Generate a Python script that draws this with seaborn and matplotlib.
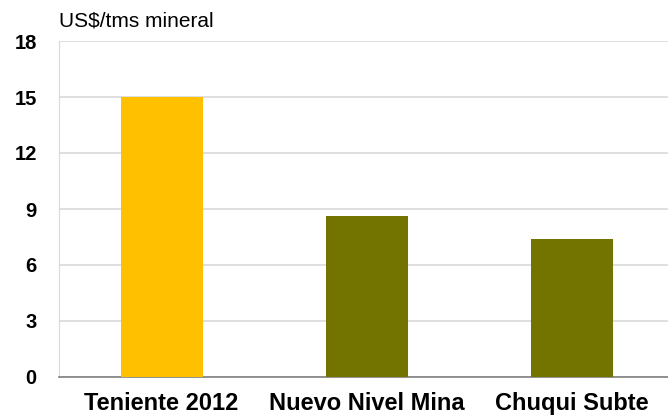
import seaborn as sns
import matplotlib.pyplot as plt
import pandas as pd

categories = ['Teniente 2012', 'Nuevo Nivel Mina', 'Chuqui Subte']
values = [15.0, 8.6, 7.4]
bar_colors = ['#FFC000', '#737300', '#737300']
y_ticks = [0, 3, 6, 9, 12, 15, 18]

df = pd.DataFrame({'Proyecto': categories, 'Costo': values})

sns.set_style('white')
plt.rcParams['font.family'] = ['Liberation Sans', 'DejaVu Sans']
plt.rcParams['text.color'] = 'black'
plt.rcParams['xtick.labelcolor'] = 'black'
plt.rcParams['ytick.labelcolor'] = 'black'

fig = plt.figure(figsize=(6.68, 4.18), dpi=100)
ax = fig.add_axes([59 / 668, 41 / 418, 1 - 59 / 668, 336 / 418])

sns.barplot(data=df, x='Proyecto', y='Costo', hue='Proyecto',
            palette=bar_colors, saturation=1, width=0.4, legend=False,
            ax=ax, zorder=3, linewidth=0)

ax.set_ylim(0, 18)
ax.set_xlim(-0.5, 2.47)
ax.set_yticks(y_ticks)
ax.set_yticklabels([str(t) for t in y_ticks], fontsize=14.5, fontweight='bold')
ax.set_xticks([-0.5, 0.5, 1.5], minor=True)
ax.set_xticks([0, 1, 2])
ax.set_xticklabels(categories, fontsize=17, fontweight='bold')
ax.tick_params(axis='x', which='major', length=0, pad=11)
ax.tick_params(axis='x', which='minor', length=6, color='#7f7f7f', width=1)
ax.tick_params(axis='y', length=5, color='#d9d9d9', width=1, pad=11)

ax.yaxis.grid(True, color='#d9d9d9', linewidth=1.2, zorder=0)
ax.set_axisbelow(True)
for s in ['top', 'right']:
    ax.spines[s].set_visible(False)
ax.spines['left'].set_color('#d9d9d9')
ax.spines['bottom'].set_color('#7f7f7f')
ax.spines['bottom'].set_linewidth(1.2)
ax.set_xlabel('')
ax.set_ylabel('')

fig.text(59 / 668, 1 - 21 / 418, 'US$/tms mineral', fontsize=15, va='center', ha='left')

fig.savefig('out.png', dpi=100)
